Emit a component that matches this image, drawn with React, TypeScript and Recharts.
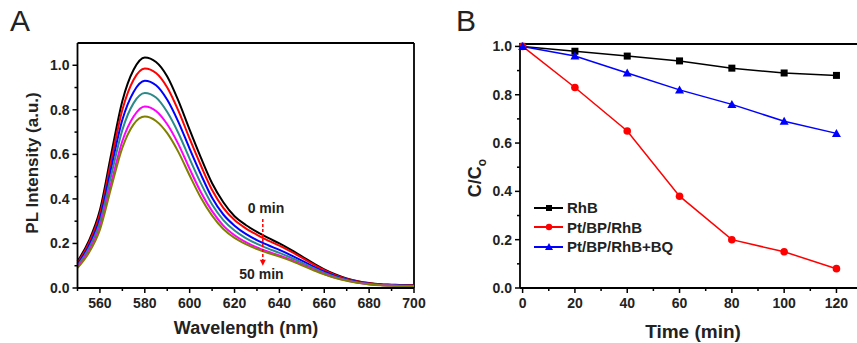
import React from 'react';
import { LineChart, Line, XAxis, YAxis, ReferenceLine, ReferenceDot } from 'recharts';

// Panel A: PL spectra of RhB, every 10 min (0 -> 50 min)
const wavelengths = [550, 555, 560, 565, 570, 575, 580, 585, 590, 595, 600, 605, 610, 615, 620, 625, 630, 635, 640, 645, 650, 655, 660, 665, 670, 675, 680, 685, 690, 695, 700];
const pl0 = [0.12, 0.21, 0.35, 0.6, 0.84, 0.98, 1.035, 1.015, 0.95, 0.84, 0.71, 0.585, 0.47, 0.385, 0.322, 0.283, 0.252, 0.225, 0.2, 0.172, 0.142, 0.112, 0.084, 0.061, 0.043, 0.03, 0.022, 0.017, 0.015, 0.013, 0.012];
const pl10 = [0.113, 0.2, 0.333, 0.57, 0.8, 0.935, 0.985, 0.965, 0.9, 0.795, 0.67, 0.55, 0.44, 0.36, 0.305, 0.268, 0.239, 0.213, 0.19, 0.164, 0.136, 0.107, 0.08, 0.058, 0.041, 0.029, 0.021, 0.016, 0.014, 0.012, 0.011];
const pl20 = [0.106, 0.188, 0.313, 0.538, 0.755, 0.88, 0.93, 0.91, 0.845, 0.745, 0.625, 0.51, 0.405, 0.33, 0.28, 0.243, 0.215, 0.192, 0.171, 0.148, 0.123, 0.097, 0.073, 0.053, 0.038, 0.027, 0.019, 0.015, 0.013, 0.011, 0.01];
const pl30 = [0.1, 0.177, 0.295, 0.505, 0.71, 0.83, 0.875, 0.855, 0.79, 0.695, 0.58, 0.47, 0.375, 0.305, 0.258, 0.224, 0.198, 0.177, 0.158, 0.137, 0.114, 0.09, 0.068, 0.05, 0.036, 0.025, 0.018, 0.014, 0.012, 0.01, 0.009];
const pl40 = [0.095, 0.165, 0.275, 0.47, 0.66, 0.77, 0.815, 0.795, 0.735, 0.645, 0.535, 0.43, 0.345, 0.28, 0.237, 0.206, 0.182, 0.163, 0.146, 0.127, 0.106, 0.084, 0.063, 0.046, 0.034, 0.024, 0.017, 0.013, 0.011, 0.009, 0.008];
const pl50 = [0.09, 0.157, 0.262, 0.45, 0.63, 0.735, 0.77, 0.75, 0.695, 0.61, 0.505, 0.405, 0.325, 0.265, 0.225, 0.197, 0.175, 0.157, 0.141, 0.123, 0.102, 0.081, 0.061, 0.045, 0.033, 0.023, 0.016, 0.012, 0.01, 0.008, 0.007];

const plSeries = [
  { key: 't0', values: pl0, color: '#000000' },
  { key: 't10', values: pl10, color: '#ff0000' },
  { key: 't20', values: pl20, color: '#0000ff' },
  { key: 't30', values: pl30, color: '#2a8a8a' },
  { key: 't40', values: pl40, color: '#ff00ff' },
  { key: 't50', values: pl50, color: '#808000' },
];

// Panel B: degradation C/Co vs time
const times = [0, 20, 40, 60, 80, 100, 120];
const rhb = [1.0, 0.98, 0.96, 0.94, 0.91, 0.89, 0.88];
const ptbpRhb = [1.0, 0.83, 0.65, 0.38, 0.2, 0.15, 0.08];
const ptbpRhbBq = [1.0, 0.96, 0.89, 0.82, 0.76, 0.69, 0.64];

const xTicksA = [550, 560, 570, 580, 590, 600, 610, 620, 630, 640, 650, 660, 670, 680, 690, 700];
const xTicksB = [0, 10, 20, 30, 40, 50, 60, 70, 80, 90, 100, 110, 120];
const yTicks = [0, 0.1, 0.2, 0.3, 0.4, 0.5, 0.6, 0.7, 0.8, 0.9, 1.0];

const dataA = wavelengths.map((w, i) => {
  const row: Record<string, number> = { w };
  plSeries.forEach((s) => (row[s.key] = s.values[i]));
  return row;
});

const dataB = times.map((t, i) => ({ t, rhb: rhb[i], pt: ptbpRhb[i], bq: ptbpRhbBq[i] }));

const FONT = '"Liberation Sans", Arial, Helvetica, sans-serif';
const TEXT = '#222';
const TICK_FONT = 14;

const isMajor20 = (v: number) => Math.round(v) % 20 === 0;
const isMajorTenth = (v: number) => Math.round(v * 10) % 2 === 0;

function bottomTick(isMajor: (v: number) => boolean) {
  return (props: any) => {
    const { x, y, payload } = props;
    const major = isMajor(payload.value);
    return (
      <g>
        <line x1={x} y1={y} x2={x} y2={y + (major ? 5 : 3)} stroke="#000" strokeWidth={1.5} />
        {major && (
          <text x={x} y={y + 20} textAnchor="middle" fontFamily={FONT} fontWeight="bold" fontSize={TICK_FONT} fill={TEXT}>
            {payload.value}
          </text>
        )}
      </g>
    );
  };
}

function leftTick(props: any) {
  const { x, y, payload } = props;
  const major = isMajorTenth(payload.value);
  return (
    <g>
      <line x1={x - (major ? 5 : 3)} y1={y} x2={x} y2={y} stroke="#000" strokeWidth={1.5} />
      {major && (
        <text x={x - 8} y={y + 5} textAnchor="end" fontFamily={FONT} fontWeight="bold" fontSize={TICK_FONT} fill={TEXT}>
          {payload.value.toFixed(1)}
        </text>
      )}
    </g>
  );
}

const square = (p: any) => <rect key={p.index} x={p.cx - 3.5} y={p.cy - 3.5} width={7} height={7} fill="#000" />;
const circle = (p: any) => <circle key={p.index} cx={p.cx} cy={p.cy} r={3.8} fill="#ff0000" />;
const triangle = (p: any) => (
  <polygon key={p.index} points={`${p.cx},${p.cy - 4.5} ${p.cx - 4.5},${p.cy + 3.5} ${p.cx + 4.5},${p.cy + 3.5}`} fill="#0000ff" />
);

const legendItems = [
  { name: 'RhB', color: '#000', marker: 'square' },
  { name: 'Pt/BP/RhB', color: '#ff0000', marker: 'circle' },
  { name: 'Pt/BP/RhB+BQ', color: '#0000ff', marker: 'triangle' },
];

function LegendBox() {
  return (
    <div style={{ position: 'absolute', left: 534, top: 198, fontFamily: FONT, fontWeight: 'bold', fontSize: 15, color: TEXT }}>
      {legendItems.map((it) => (
        <div key={it.name} style={{ display: 'flex', alignItems: 'center', height: 19.5 }}>
          <svg width={30} height={12} style={{ marginRight: 3 }}>
            <line x1={0} y1={6} x2={29} y2={6} stroke={it.color} strokeWidth={2} />
            {it.marker === 'square' && <rect x={12} y={3} width={6} height={6} fill={it.color} />}
            {it.marker === 'circle' && <circle cx={15} cy={6} r={3.2} fill={it.color} />}
            {it.marker === 'triangle' && <polygon points="15,2 11,9 19,9" fill={it.color} />}
          </svg>
          <span>{it.name}</span>
        </div>
      ))}
    </div>
  );
}

const textAt = (label: string, dy: number) => (p: any) => (
  <text x={p.cx} y={p.cy + dy} textAnchor="middle" fontFamily={FONT} fontWeight="bold" fontSize={14} fill={TEXT}>
    {label}
  </text>
);

const arrowHead = (p: any) => (
  <polygon points={`${p.cx - 3},${p.cy - 6} ${p.cx + 3},${p.cy - 6} ${p.cx},${p.cy}`} fill="#ff0000" />
);

export default function App() {
  return (
    <div style={{ position: 'absolute', left: 0, top: 0, width: 857, height: 343, overflow: 'hidden', background: '#fff' }}>
      <div style={{ position: 'absolute', left: 10, top: 4, fontFamily: FONT, fontSize: 30, color: TEXT }}>A</div>
      <div style={{ position: 'absolute', left: 456, top: 4, fontFamily: FONT, fontSize: 30, color: TEXT }}>B</div>

      <div style={{ position: 'absolute', left: 0, top: 0 }}>
        <LineChart width={430} height={343} data={dataA} margin={{ top: 43, right: 16, bottom: 25, left: 37.5 }}>
          <XAxis
            dataKey="w"
            type="number"
            domain={[550, 700]}
            ticks={xTicksA}
            interval={0}
            height={30}
            tickSize={0}
            tickMargin={0}
            tick={bottomTick(isMajor20)}
            axisLine={{ stroke: '#000', strokeWidth: 1.8 }}
            tickLine={false}
          />
          <YAxis
            type="number"
            domain={[0, 1.1]}
            ticks={yTicks}
            interval={0}
            width={40}
            tickSize={0}
            tickMargin={0}
            tick={leftTick}
            axisLine={{ stroke: '#000', strokeWidth: 1.8 }}
            tickLine={false}
          />
          <ReferenceLine y={1.1} stroke="#000" strokeWidth={1.8} />
          <ReferenceLine x={700} stroke="#000" strokeWidth={1.8} />
          {plSeries.map((s) => (
            <Line key={s.key} type="monotone" dataKey={s.key} stroke={s.color} strokeWidth={2} dot={false} isAnimationActive={false} />
          ))}
          <ReferenceLine
            segment={[{ x: 632.6, y: 0.31 }, { x: 632.6, y: 0.115 }]}
            stroke="#ff0000"
            strokeWidth={1.5}
            strokeDasharray="3 2"
          />
          <ReferenceDot x={632.6} y={0.1} r={0} shape={arrowHead} />
          <ReferenceDot x={634} y={0.355} r={0} shape={textAt('0 min', 4)} />
          <ReferenceDot x={632} y={0.06} r={0} shape={textAt('50 min', 4)} />
        </LineChart>
      </div>

      <div style={{ position: 'absolute', left: 33, top: 163, transform: 'translate(-50%, -50%) rotate(-90deg)', whiteSpace: 'nowrap', fontFamily: FONT, fontWeight: 'bold', fontSize: 17, color: TEXT }}>
        PL Intensity (a.u.)
      </div>
      <div style={{ position: 'absolute', left: 246, top: 318, transform: 'translateX(-50%)', whiteSpace: 'nowrap', fontFamily: FONT, fontWeight: 'bold', fontSize: 18, color: TEXT }}>
        Wavelength (nm)
      </div>

      <div style={{ position: 'absolute', left: 430, top: 0 }}>
        <LineChart width={440} height={343} data={dataB} margin={{ top: 44, right: 10, bottom: 25, left: 50 }}>
          <XAxis
            dataKey="t"
            type="number"
            domain={[-1, 129]}
            ticks={xTicksB}
            interval={0}
            height={30}
            tickSize={0}
            tickMargin={0}
            tick={bottomTick(isMajor20)}
            axisLine={{ stroke: '#000', strokeWidth: 1.8 }}
            tickLine={false}
          />
          <YAxis
            type="number"
            domain={[0, 1.01]}
            ticks={yTicks}
            interval={0}
            width={40}
            tickSize={0}
            tickMargin={0}
            tick={leftTick}
            axisLine={{ stroke: '#000', strokeWidth: 1.8 }}
            tickLine={false}
          />
          <ReferenceLine y={1.01} stroke="#000" strokeWidth={1.8} />
          <Line dataKey="rhb" name="RhB" stroke="#000" strokeWidth={1.5} dot={square} isAnimationActive={false} />
          <Line dataKey="pt" name="Pt/BP/RhB" stroke="#ff0000" strokeWidth={1.5} dot={circle} isAnimationActive={false} />
          <Line dataKey="bq" name="Pt/BP/RhB+BQ" stroke="#0000ff" strokeWidth={1.5} dot={triangle} isAnimationActive={false} />
        </LineChart>
      </div>
      <LegendBox />

      <div style={{ position: 'absolute', left: 477, top: 178, transform: 'translate(-50%, -50%) rotate(-90deg)', whiteSpace: 'nowrap', fontFamily: FONT, fontWeight: 'bold', fontSize: 18, color: TEXT }}>
        C/C<sub style={{ fontSize: 12 }}>o</sub>
      </div>
      <div style={{ position: 'absolute', left: 693, top: 321, transform: 'translateX(-50%)', whiteSpace: 'nowrap', fontFamily: FONT, fontWeight: 'bold', fontSize: 19, color: TEXT }}>
        Time (min)
      </div>
    </div>
  );
}
